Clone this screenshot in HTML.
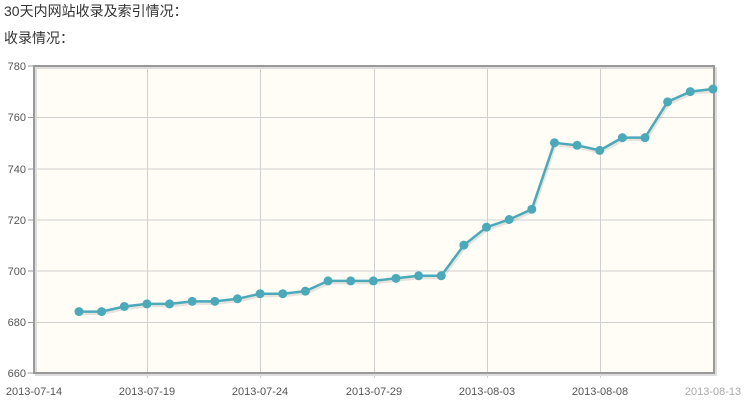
<!DOCTYPE html>
<html><head><meta charset="utf-8"><style>
body{margin:0;background:#fff;width:745px;height:406px;overflow:hidden;font-family:"Liberation Sans","Noto Sans CJK SC",sans-serif;}
.t{position:absolute;left:4px;font-size:14px;color:#333;}
</style></head><body>
<div class="t" style="top:1px">30天内网站收录及索引情况：</div>
<div class="t" style="top:28px">收录情况：</div>
<svg width="745" height="406" style="position:absolute;left:0;top:0">
<rect x="34" y="66" width="680" height="307" fill="#fffdf5"/>
<g stroke="#d0d0d0" stroke-width="1">
<line x1="34" x2="714" y1="117.5" y2="117.5"/><line x1="34" x2="714" y1="169" y2="169"/>
<line x1="34" x2="714" y1="220" y2="220"/><line x1="34" x2="714" y1="271" y2="271"/>
<line x1="34" x2="714" y1="322.5" y2="322.5"/>
<line x1="147.5" x2="147.5" y1="66" y2="378"/><line x1="260.5" x2="260.5" y1="66" y2="378"/>
<line x1="374.5" x2="374.5" y1="66" y2="378"/><line x1="487.5" x2="487.5" y1="66" y2="378"/>
<line x1="600.5" x2="600.5" y1="66" y2="378"/>
</g>
<rect x="36" y="68" width="680" height="307" fill="none" stroke="#ddd" stroke-width="2"/>
<rect x="34" y="66" width="680" height="307" fill="none" stroke="#999" stroke-width="2"/>
<g stroke="#999"><line x1="28" x2="34" y1="66" y2="66"/><line x1="28" x2="34" y1="117.5" y2="117.5"/><line x1="28" x2="34" y1="169" y2="169"/><line x1="28" x2="34" y1="220" y2="220"/><line x1="28" x2="34" y1="271" y2="271"/><line x1="28" x2="34" y1="322.5" y2="322.5"/><line x1="28" x2="34" y1="373" y2="373"/></g>
<g font-size="11" fill="#555" text-anchor="end" font-family="Liberation Sans,sans-serif">
<text x="26" y="70">780</text><text x="26" y="121">760</text><text x="26" y="173">740</text><text x="26" y="224">720</text><text x="26" y="275">700</text><text x="26" y="326">680</text><text x="26" y="377">660</text>
</g>
<g font-size="11" fill="#555" text-anchor="middle" font-family="Liberation Sans,sans-serif">
<text x="34" y="395">2013-07-14</text><text x="147" y="395">2013-07-19</text><text x="260" y="395">2013-07-24</text><text x="374" y="395">2013-07-29</text><text x="487" y="395">2013-08-03</text><text x="600" y="395">2013-08-08</text><text x="713" y="395" fill="#aaa">2013-08-13</text>
</g>
<g id="s"></g>
</svg>
<script>
var v=[684,684,686,687,687,688,688,689,691,691,692,696,696,696,697,698,698,710,717,720,724,750,749,747,752,752,766,770,771];
var p=v.map(function(d,i){return [79+i*22.64,66+(780-d)*307/120];});
var pts=p.map(function(a){return a[0].toFixed(1)+','+a[1].toFixed(1)}).join(' ');
var h='<polyline points="'+pts+'" transform="translate(1,2)" fill="none" stroke="rgba(0,0,0,0.1)" stroke-width="3"/>';
h+='<polyline points="'+pts+'" fill="none" stroke="#4ca9ba" stroke-width="2.5"/>';
p.forEach(function(a){h+='<circle cx="'+a[0]+'" cy="'+a[1]+'" r="4.5" fill="#4ca9ba"/>';});
document.getElementById('s').innerHTML=h;
</script>
</body></html>
